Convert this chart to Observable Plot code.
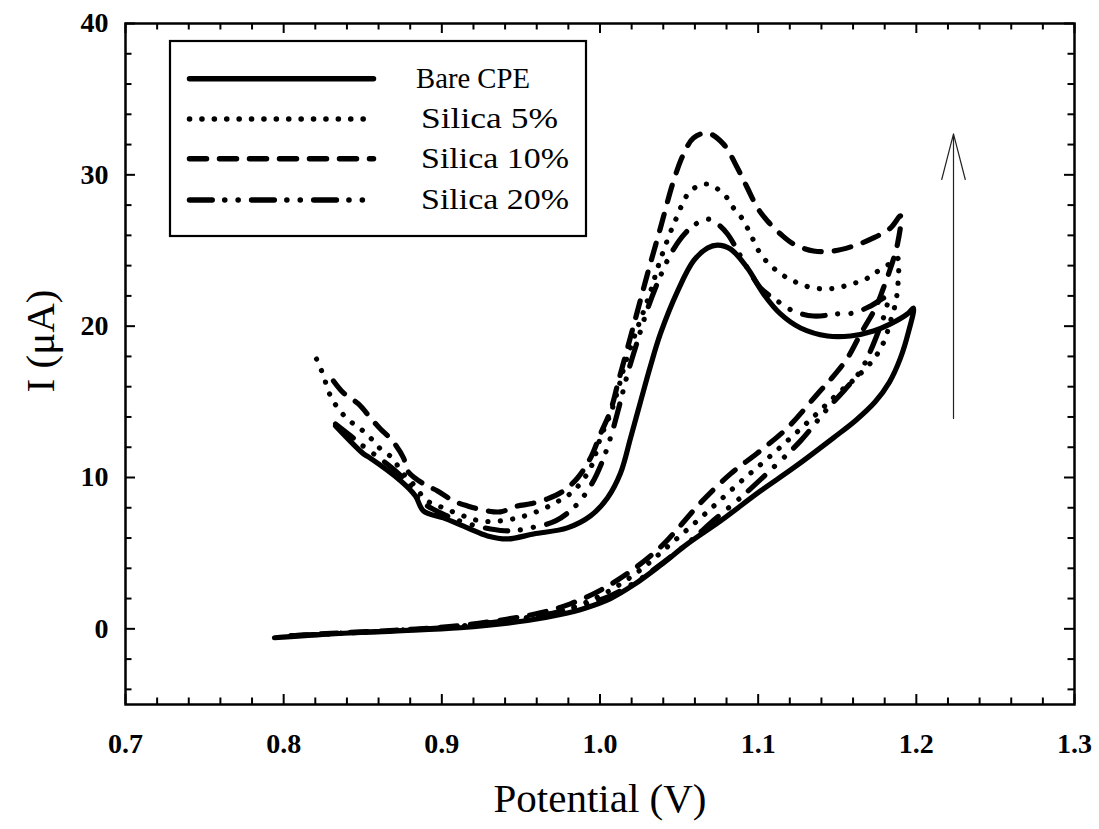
<!DOCTYPE html>
<html>
<head>
<meta charset="utf-8">
<script src="https://cdn.jsdelivr.net/npm/d3@7"></script>
<script src="https://cdn.jsdelivr.net/npm/@observablehq/plot@0.6"></script>
<style>
  html, body { margin: 0; padding: 0; background: #fff; }
  #wrap { position: relative; width: 1099px; height: 829px; }
  #legend { position: absolute; left: 0; top: 0; pointer-events: none; }
</style>
</head>
<body>
<div id="wrap"></div>
<script>
// ---- data (Potential V, Current µA) ----
const seriesNames = ["Bare CPE", "Silica 5%", "Silica 10%", "Silica 20%"];

const bareCPE = [
  [0.8328,13.41],[0.8505,11.56],[0.8536,11.36],[0.8739,9.78],[0.8833,8.78],[0.8884,7.79],[0.9010,7.33],
  [0.9162,6.67],[0.9289,6.14],[0.9415,5.94],[0.9580,6.27],[0.9794,6.67],[0.9940,7.46],[1.0047,8.65],
  [1.0130,10.30],[1.0193,12.60],[1.0256,15.00],[1.0320,17.40],[1.0382,19.50],[1.0490,22.30],[1.0591,24.31],[1.0680,25.17],
  [1.0743,25.36],[1.0825,25.10],[1.0932,23.84],[1.1034,22.13],[1.1141,20.81],[1.1268,19.88],[1.1438,19.35],
  [1.1584,19.35],[1.1729,19.68],[1.1837,20.15],[1.1944,20.81],[1.1982,21.20],
  [1.1950,19.60],[1.1900,17.90],[1.1830,16.30],[1.1740,15.00],[1.1620,13.80],[1.1476,12.62],[1.1223,10.63],
  [1.1015,9.11],[1.0762,7.13],[1.0553,5.61],[1.0382,4.20],[1.0212,2.90],[1.0066,2.00],[0.9900,1.35],
  [0.9750,0.95],[0.9542,0.55],[0.9118,0.07],[0.8694,-0.15],[0.8277,-0.35],[0.7942,-0.59]
];

const silica5 = [
  [0.8208,17.83],[0.8245,16.91],[0.8296,15.39],[0.8347,14.53],[0.8410,13.80],[0.8479,13.28],[0.8549,12.62],
  [0.8612,11.89],[0.8694,11.23],[0.8739,10.44],[0.8802,9.78],[0.8909,8.45],[0.9011,7.99],[0.9137,7.46],
  [0.9244,7.13],[0.9371,7.13],[0.9478,7.33],[0.9580,7.66],[0.9706,8.26],[0.9832,9.11],[0.9940,10.63],
  [1.0003,12.62],[1.0066,14.20],[1.0117,15.92],[1.0161,17.60],[1.0220,19.40],[1.0307,21.90],[1.0382,24.40],
  [1.0477,27.00],[1.0572,28.93],[1.0680,29.39],[1.0793,28.60],[1.0844,27.81],[1.0901,27.08],[1.0951,26.09],
  [1.1015,24.77],[1.1097,23.84],[1.1185,23.18],[1.1268,22.79],[1.1350,22.52],[1.1502,22.52],[1.1584,22.79],
  [1.1660,22.99],[1.1729,23.45],[1.1837,24.17],[1.1881,24.50],
  [1.1885,23.00],[1.1870,21.60],[1.1837,20.34],[1.1792,18.90],[1.1729,17.80],[1.1620,16.60],[1.1520,15.70],
  [1.1318,13.70],[1.1097,11.60],[1.0876,9.60],[1.0654,7.50],[1.0446,5.60],[1.0256,3.90],[1.0066,2.55],
  [0.9877,1.60],[0.9687,1.00],[0.9450,0.60],[0.9100,0.15],[0.8700,-0.12],[0.8300,-0.33],[0.7980,-0.50]
];

const silica10 = [
  [0.8315,16.38],[0.8378,15.59],[0.8473,14.86],[0.8549,13.94],[0.8612,13.21],[0.8688,12.42],[0.8758,11.29],
  [0.8783,10.44],[0.8884,9.58],[0.8973,9.11],[0.9074,8.45],[0.9162,8.12],[0.9289,7.79],[0.9371,7.73],
  [0.9478,8.12],[0.9561,8.26],[0.9668,8.59],[0.9769,9.11],[0.9858,9.97],[0.9940,11.29],[1.0003,12.88],
  [1.0066,14.40],[1.0117,16.38],[1.0174,18.56],[1.0237,21.00],[1.0300,23.45],[1.0382,26.49],[1.0465,29.60],
  [1.0528,31.37],[1.0591,32.43],[1.0680,32.76],[1.0781,32.03],[1.0869,30.45],[1.0932,29.13],[1.0996,27.81],
  [1.1059,26.95],[1.1141,26.09],[1.1223,25.43],[1.1350,24.97],[1.1476,24.97],[1.1603,25.30],[1.1729,25.83],
  [1.1837,26.49],[1.1900,27.28],
  [1.1881,25.43],[1.1837,23.84],[1.1792,22.52],[1.1742,21.20],[1.1647,19.48],[1.1565,17.90],[1.1476,16.70],
  [1.1375,15.52],[1.1185,13.28],[1.0996,11.62],[1.0825,10.24],[1.0635,8.32],[1.0490,6.60],[1.0382,5.40],
  [1.0193,3.80],[1.0003,2.55],[0.9813,1.65],[0.9624,1.06],[0.9400,0.62],[0.9100,0.20],[0.8700,-0.10],
  [0.8300,-0.30],[0.8043,-0.46]
];

const silica20 = [
  [0.8328,13.54],[0.8423,12.75],[0.8517,11.96],[0.8612,11.23],[0.8707,10.44],[0.8802,9.44],[0.8865,8.45],
  [0.8992,7.66],[0.9150,7.00],[0.9308,6.60],[0.9434,6.47],[0.9561,6.67],[0.9719,7.13],[0.9845,8.12],
  [0.9940,9.44],[1.0016,11.10],[1.0079,13.08],[1.0130,15.06],[1.0174,16.84],[1.0237,19.02],[1.0307,21.33],
  [1.0382,23.32],[1.0458,24.97],[1.0540,26.16],[1.0616,26.82],[1.0680,27.08],[1.0743,26.75],[1.0806,26.09],
  [1.0888,24.64],[1.0951,23.51],[1.1015,22.52],[1.1122,21.66],[1.1223,21.00],[1.1350,20.67],[1.1502,20.81],
  [1.1603,20.87],[1.1710,21.33],[1.1818,21.93],
  [1.1805,21.00],[1.1761,19.68],[1.1710,18.36],[1.1647,17.04],[1.1552,15.85],[1.1426,14.40],[1.1268,12.42],
  [1.1059,10.30],[1.0901,8.78],[1.0730,7.27],[1.0572,5.81],[1.0414,4.49],[1.0237,3.17],[1.0066,2.18],
  [0.9877,1.52],[0.9687,0.99],[0.9450,0.60],[0.9100,0.15],[0.8700,-0.12],[0.8300,-0.32],[0.8043,-0.46]
];

const xTickLabels = [0.7, 0.8, 0.9, 1.0, 1.1, 1.2, 1.3];
const xMinorTicks = [0.72,0.74,0.76,0.78,0.82,0.84,0.86,0.88,0.92,0.94,0.96,0.98,1.02,1.04,1.06,1.08,1.12,1.14,1.16,1.18,1.22,1.24,1.26,1.28];
const yTickLabels = [0, 10, 20, 30, 40];
const yMinorTicks = [-4,-2,2,4,6,8,12,14,16,18,22,24,26,28,32,34,36,38];
const arrowNote = [{x: 1.2235, from: 13.9, to: 32.7}];

// ---- styles ----
const dashes = ["none", "0.1 12.3", "17 13", "22.7 12.5 0.1 13.3 0.1 13.4"];
const seriesData = [bareCPE, silica5, silica10, silica20];

const W = 1099, H = 829;
const mL = 125, mR = 25, mT = 23, mB = 125;
const innerH = H - mT - mB, innerW = W - mL - mR;
const font = "Liberation Serif, Times New Roman, serif";

const lineMarks = seriesData.map((data, k) => Plot.line(data, {
  x: d => d[0], y: d => d[1],
  stroke: "black", strokeWidth: 5.2,
  strokeDasharray: dashes[k] === "none" ? null : dashes[k],
  strokeLinecap: "round", strokeLinejoin: "round",
  curve: "catmull-rom"
}));

const arrowW = 1.2;
const chart = Plot.plot({
  width: W, height: H,
  marginLeft: mL, marginRight: mR, marginTop: mT, marginBottom: mB,
  x: {domain: [0.7, 1.3], axis: null},
  y: {domain: [-5, 40], axis: null},
  style: {fontFamily: font, background: "white", overflow: "visible"},
  marks: [
    ...lineMarks,
    Plot.arrow(arrowNote, {x1: "x", x2: "x", y1: "from", y2: "to",
      stroke: "#222", strokeWidth: arrowW, headLength: 47 * 1.5 / arrowW, headAngle: 29}),
    // ticks (inward, all four sides)
    Plot.ruleX(xTickLabels, {x: d => d, insetTop: innerH - 10, stroke: "black", strokeWidth: 2}),
    Plot.ruleX(xTickLabels, {x: d => d, insetBottom: innerH - 10, stroke: "black", strokeWidth: 2}),
    Plot.ruleX(xMinorTicks, {x: d => d, insetTop: innerH - 6.5, stroke: "black", strokeWidth: 2}),
    Plot.ruleX(xMinorTicks, {x: d => d, insetBottom: innerH - 6.5, stroke: "black", strokeWidth: 2}),
    Plot.ruleY(yTickLabels, {y: d => d, insetRight: innerW - 10, stroke: "black", strokeWidth: 2}),
    Plot.ruleY(yTickLabels, {y: d => d, insetLeft: innerW - 10, stroke: "black", strokeWidth: 2}),
    Plot.ruleY(yMinorTicks, {y: d => d, insetRight: innerW - 6.5, stroke: "black", strokeWidth: 2}),
    Plot.ruleY(yMinorTicks, {y: d => d, insetLeft: innerW - 6.5, stroke: "black", strokeWidth: 2}),
    Plot.frame({stroke: "black", strokeWidth: 2.5}),
    // tick labels
    Plot.text(xTickLabels, {x: d => d, text: d => d.toFixed(1), frameAnchor: "bottom", lineAnchor: "middle",
      textAnchor: "middle", dy: 40, fontFamily: font, fontSize: 28, fontWeight: "bold", fill: "black"}),
    Plot.text(yTickLabels, {y: d => d, text: d => String(d), frameAnchor: "left", lineAnchor: "middle",
      dx: -17, textAnchor: "end", fontFamily: font, fontSize: 28, fontWeight: "bold", fill: "black"}),
    // axis titles
    Plot.text(["Potential (V)"], {frameAnchor: "bottom", lineAnchor: "middle", textAnchor: "middle",
      dy: 94, fontFamily: font, fontSize: 41, fill: "black"}),
    Plot.text(["I (\u03bcA)"], {frameAnchor: "left", lineAnchor: "middle", textAnchor: "middle",
      dx: -85, dy: -23, rotate: -90, fontFamily: font, fontSize: 41, fill: "black"})
  ]
});

const wrap = document.getElementById("wrap");
wrap.appendChild(chart);

// ---- legend overlay ----
const leg = d3.select(wrap).append("svg").attr("id", "legend")
  .attr("width", W).attr("height", H);
leg.append("rect").attr("x", 170).attr("y", 41).attr("width", 416).attr("height", 195)
  .attr("fill", "white").attr("stroke", "black").attr("stroke-width", 2.2);
const rowY = [78.7, 119, 158.7, 200];
const textX = [416, 421, 421, 421];
const textLen = [114, 137, 148, 148];
seriesNames.forEach((name, k) => {
  leg.append("line").attr("x1", 189.5).attr("x2", 373.5).attr("y1", rowY[k]).attr("y2", rowY[k])
    .attr("stroke", "black").attr("stroke-width", 5.5).attr("stroke-linecap", "round")
    .attr("stroke-dasharray", dashes[k] === "none" ? null : dashes[k]);
  leg.append("text").attr("x", textX[k]).attr("y", rowY[k] + 9)
    .attr("font-family", font).attr("font-size", 29).attr("fill", "black")
    .attr("textLength", textLen[k]).attr("lengthAdjust", "spacingAndGlyphs").text(name);
});
</script>
</body>
</html>
